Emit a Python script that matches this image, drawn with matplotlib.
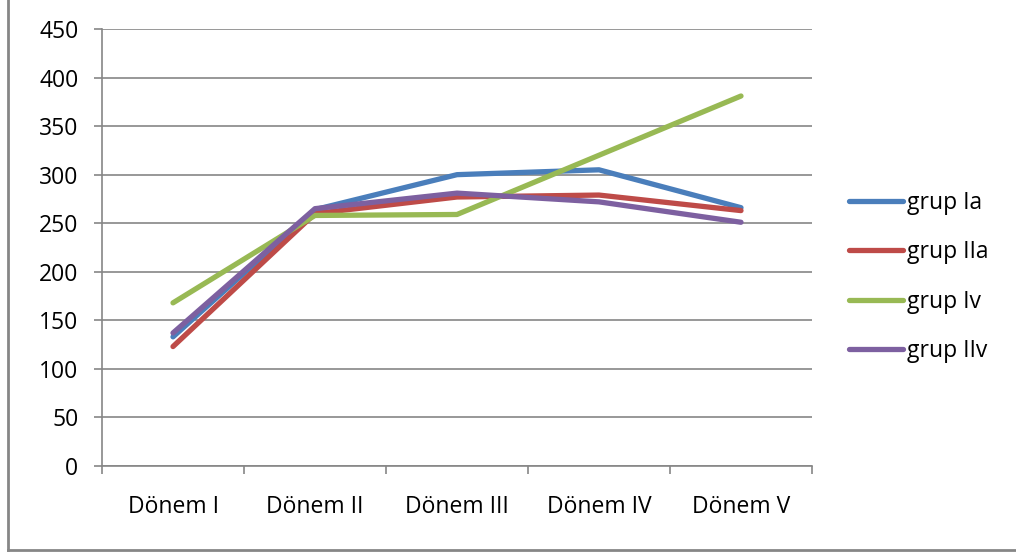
import matplotlib
matplotlib.use("Agg")
import matplotlib.pyplot as plt
from matplotlib.lines import Line2D

plt.rcParams['font.family'] = ['Open Sans', 'DejaVu Sans']

categories = ["Dönem I", "Dönem II", "Dönem III", "Dönem IV", "Dönem V"]
series_names = ["grup Ia", "grup IIa", "grup Iv", "grup IIv"]
grup_Ia = [133, 264, 300, 305, 266]
grup_IIa = [123, 260, 277, 279, 263]
grup_Iv = [168, 258, 259, 320, 381]
grup_IIv = [137, 265, 281, 272, 251]
colors = ["#4a7ebb", "#be4b48", "#98b954", "#7d60a0"]
y_ticks = list(range(0, 451, 50))

FS = 16.5

fig = plt.figure(figsize=(10.16, 5.56), dpi=100)
ax = fig.add_axes([102 / 1016, 1 - 466 / 556, 710 / 1016, 437 / 556])

x = list(range(len(categories)))
for vals, name, c in zip([grup_Ia, grup_IIa, grup_Iv, grup_IIv], series_names, colors):
    ax.plot(x, vals, color=c, lw=3.8, solid_capstyle='round', solid_joinstyle='round', label=name)

ax.set_xlim(-0.5, len(categories) - 0.5)
ax.set_ylim(0, 450)
ax.set_yticks(y_ticks)
ax.set_yticklabels([str(v) for v in y_ticks], fontsize=FS)
ax.set_xticks(x)
ax.set_xticklabels(categories, fontsize=FS)
ax.tick_params(axis='x', length=0, pad=21)
ax.set_xticks([i - 0.5 for i in range(len(categories) + 1)], minor=True)
ax.tick_params(axis='x', which='minor', length=6, width=1.2, color='#868686', direction='out')
ax.tick_params(axis='y', length=6, width=1.2, color='#868686', direction='out', pad=11)
ax.grid(axis='y', color='#868686', lw=1.2)
ax.set_axisbelow(True)
for s in ['top', 'right']:
    ax.spines[s].set_visible(False)
for s in ['left', 'bottom']:
    ax.spines[s].set_color('#868686')
    ax.spines[s].set_linewidth(1.2)

handles = [Line2D([], [], color=c, lw=3.8, solid_capstyle='round') for c in colors]
fig.legend(handles, series_names, loc='center left', bbox_to_anchor=(849 / 1016, 1 - 277 / 556),
           frameon=False, fontsize=FS, handlelength=2.35, handletextpad=0.2, labelspacing=1.1,
           borderaxespad=0, borderpad=0)

# outer chart frame
fig.add_artist(Line2D([7.5 / 1016, 7.5 / 1016], [1 - 550 / 556, 1.0], transform=fig.transFigure,
                      color='#868686', lw=2))
fig.add_artist(Line2D([7.5 / 1016, 1.0], [1 - 550 / 556, 1 - 550 / 556], transform=fig.transFigure,
                      color='#868686', lw=2))

fig.savefig("out.png", dpi=100)
